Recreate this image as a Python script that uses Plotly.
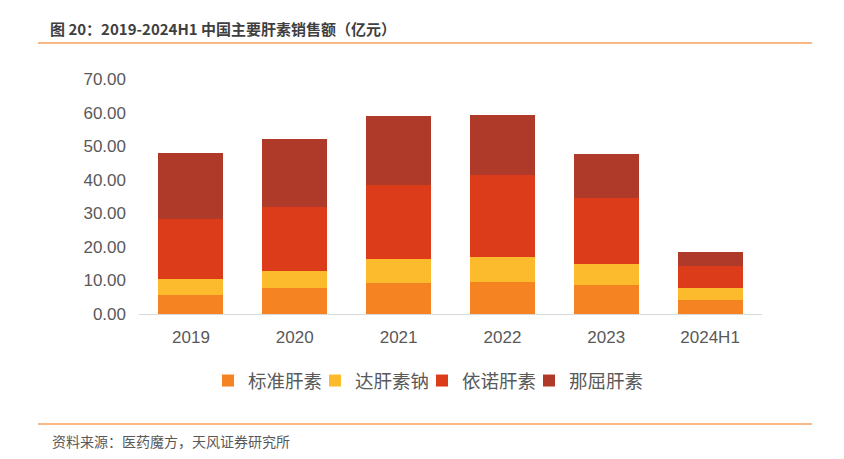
import plotly.graph_objects as go

categories = ["2019", "2020", "2021", "2022", "2023", "2024H1"]
biaozhun = [5.8, 7.8, 9.3, 9.5, 8.5, 4.3]      # 标准肝素
dagansu = [4.6, 4.9, 7.0, 7.5, 6.3, 3.35]      # 达肝素钠
yinuo = [17.9, 19.3, 22.1, 24.3, 19.9, 6.65]   # 依诺肝素
naqu = [19.7, 20.2, 20.7, 18.0, 12.9, 4.2]     # 那屈肝素
series_names = ["标准肝素", "达肝素钠", "依诺肝素", "那屈肝素"]
y_ticks = [0, 10, 20, 30, 40, 50, 60, 70]
y_tick_labels = ["0.00", "10.00", "20.00", "30.00", "40.00", "50.00", "60.00", "70.00"]

colors = ["#F58322", "#FBBB2C", "#DD3C1A", "#B03A2A"]

W, H = 844, 459
L, R, T, B = 139, 762, 79, 314
pw, ph = R - L, B - T


def px(x):
    return (x - L) / pw


def py(y):
    return (B - y) / ph


fig = go.Figure()
for name, vals, c in zip(series_names, [biaozhun, dagansu, yinuo, naqu], colors):
    fig.add_trace(go.Bar(
        x=categories, y=vals, name=name,
        marker=dict(color=c, line=dict(width=0)),
    ))

# empty spacer entry so the compact legend does not clip the last label
fig.add_trace(go.Bar(
    x=categories, y=[None] * len(categories), name=" ",
    marker=dict(color="rgba(0,0,0,0)", line=dict(width=0)),
    hoverinfo="skip",
))

cjk = "Noto Sans CJK SC"
num = "Liberation Sans, Arial"

fig.update_layout(
    width=W, height=H,
    margin=dict(l=L, r=W - R, t=T, b=H - B),
    barmode="stack",
    bargap=0.374,
    plot_bgcolor="white",
    paper_bgcolor="white",
    showlegend=True,
    title=dict(
        text="<b>图 20：2019-2024H1 中国主要肝素销售额（亿元）</b>",
        font=dict(family=cjk, size=15, color="#3F3F3F"),
        x=50 / W, xref="container", xanchor="left",
        y=1 - 30 / H, yref="container", yanchor="middle",
    ),
    legend=dict(
        orientation="h",
        x=px(208), xanchor="left",
        y=py(381), yanchor="middle",
        font=dict(family=cjk, size=18.5, color="#595959"),
        itemwidth=30,
        entrywidth=62,
        entrywidthmode="pixels",
        traceorder="normal",
    ),
    xaxis=dict(
        showgrid=False,
        showline=True, linecolor="#D9D9D9", linewidth=1,
        ticks="",
        tickfont=dict(family=num, size=17, color="#595959"),
        ticklabelstandoff=8,
    ),
    yaxis=dict(
        range=[0, 70],
        tickvals=y_ticks, ticktext=y_tick_labels,
        showgrid=False, zeroline=False, showline=False,
        ticks="",
        tickfont=dict(family=num, size=17, color="#595959"),
        ticklabelstandoff=12,
    ),
    shapes=[
        dict(type="line", xref="paper", yref="paper",
             x0=px(38), x1=px(812), y0=py(43), y1=py(43),
             line=dict(color="#F4A15D", width=1.5)),
        dict(type="line", xref="paper", yref="paper",
             x0=px(38), x1=px(812), y0=py(424), y1=py(424),
             line=dict(color="#F4A15D", width=1.5)),
    ],
    annotations=[
        dict(text="资料来源：医药魔方，天风证券研究所",
             xref="paper", yref="paper",
             x=px(50), y=py(441), xanchor="left", yanchor="middle",
             showarrow=False,
             font=dict(family=cjk, size=14, color="#595959")),
    ],
)

fig.write_html(
    "out.html",
    config={"displayModeBar": False},
    post_script="document.body.style.margin='0';document.body.style.overflow='hidden';",
)
